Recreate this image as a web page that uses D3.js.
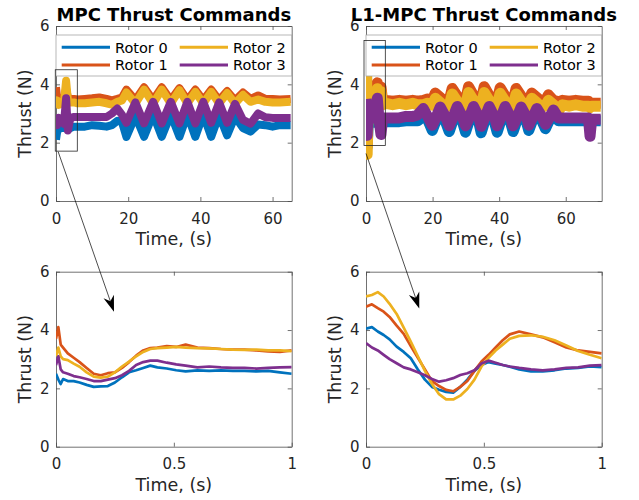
<!DOCTYPE html>
<html>
<head>
<meta charset="utf-8">
<script src="https://cdn.jsdelivr.net/npm/d3@7"></script>
<style>
    body { margin: 0; background: #fff; }
    svg { font-family: "DejaVu Sans", sans-serif; }
</style>
</head>
<body>
<div id="chart"></div>
<script>
// rotors + MATLAB default line colours
const rotorNames = ["Rotor 0", "Rotor 1", "Rotor 2", "Rotor 3"];
const rotorColors = ["#0072BD", "#D95319", "#EDB120", "#7E2F8E"];

const thrustTicks = [0, 2, 4, 6];
const thrustTickLabels = ["0", "2", "4", "6"];
const runTicks = [0, 20, 40, 60];
const runTickLabels = ["0", "20", "40", "60"];
const zoomTicks = [0, 0.5, 1];
const zoomTickLabels = ["0", "0.5", "1"];

// ---- MPC, whole flight (values are centres of the noisy band) ----
const mpcTime = [0, 0.3, 0.8, 1.5, 2.2, 2.8, 3.3, 4, 5, 6, 8, 10, 12, 14, 15.5,
    17, 18.3, 19.5, 22, 24.4, 26.9, 29.3, 31.8, 34.2, 36.4, 38.6, 40.8, 43.0, 45.2, 47.4,
    49.6, 51.8, 53.9, 56, 58, 60, 62, 65];
const mpcRotor0 = [2.1, 2.35, 2.5, 2.5, 2.5, 2.6, 2.45, 2.5, 2.55, 2.55, 2.55, 2.6, 2.58, 2.55, 2.6,
    2.75, 2.7, 2.2, 2.92, 2.2, 2.97, 2.2, 2.97, 2.2, 2.97, 2.2, 2.97, 2.2, 2.95, 2.25,
    2.9, 2.5, 2.38, 2.62, 2.6, 2.55, 2.6, 2.6];
const mpcRotor1 = [3.9, 3.55, 3.4, 3.5, 3.5, 3.85, 3.55, 3.5, 3.5, 3.48, 3.5, 3.52, 3.55, 3.5, 3.45,
    3.5, 3.55, 3.82, 3.46, 3.9, 3.46, 3.9, 3.46, 3.87, 3.46, 3.82, 3.46, 3.82, 3.46, 3.77,
    3.45, 3.72, 3.5, 3.62, 3.5, 3.5, 3.48, 3.5];
const mpcRotor2 = [3.2, 3.45, 3.3, 3.35, 3.4, 4.12, 3.45, 3.38, 3.38, 3.35, 3.35, 3.38, 3.4, 3.35, 3.3,
    3.4, 3.45, 3.72, 3.34, 3.82, 3.34, 3.82, 3.34, 3.8, 3.34, 3.74, 3.34, 3.74, 3.34, 3.7,
    3.34, 3.64, 3.4, 3.48, 3.4, 3.38, 3.38, 3.4];
const mpcRotor3 = [2.75, 2.6, 2.85, 2.8, 2.65, 3.52, 2.42, 2.85, 2.88, 2.88, 2.88, 2.88, 2.88, 2.88, 3.0,
    3.17, 2.95, 2.68, 3.38, 2.66, 3.4, 2.66, 3.4, 2.66, 3.4, 2.66, 3.4, 2.68, 3.38, 2.68,
    3.33, 2.78, 2.65, 3.0, 2.87, 2.85, 2.85, 2.85];

// ---- L1-MPC, whole flight ----
const l1Time = [0, 0.15, 0.35, 0.7, 1.2, 1.6, 2.2, 2.8, 3.4, 3.9, 4.5, 5, 6, 8, 10, 12, 14, 15.5, 17.2, 18.5,
    19.9, 20.8, 22.3, 23.8, 25.0, 25.9, 27.4, 28.9, 29.9, 30.8, 32.3, 33.8,
    34.6, 35.5, 37.0, 38.5, 39.4, 40.3, 41.8, 43.3, 44.2, 45.1, 46.6, 48.1,
    48.9, 49.8, 51.3, 52.8, 53.9, 54.8, 56.3, 57.8,
    59, 61, 63, 65, 66.8, 67.3, 67.8, 69, 70.5];
const l1Rotor0 = [4.1, 3.9, 1.85, 2.7, 2.7, 2.7, 2.7, 2.7, 2.8, 2.7, 2.6, 2.7, 2.72, 2.72, 2.72, 2.75, 2.75, 2.75, 2.9, 2.8,
    2.42, 2.68, 3.0, 2.75, 2.38, 2.68, 3.05, 2.75, 2.36, 2.68, 3.05, 2.75,
    2.34, 2.68, 3.05, 2.75, 2.36, 2.68, 3.05, 2.75, 2.38, 2.68, 3.05, 2.75,
    2.42, 2.7, 3.0, 2.75, 2.48, 2.7, 2.95, 2.75,
    2.75, 2.75, 2.75, 2.75, 2.75, 2.75, 2.75, 2.75, 2.75];
const l1Rotor1 = [4.8, 4.6, 1.9, 3.7, 3.4, 3.5, 3.45, 3.5, 4.05, 3.5, 3.9, 3.42, 3.45, 3.42, 3.45, 3.42, 3.45, 3.42, 3.45, 3.5,
    3.45, 3.7, 3.55, 3.4, 3.45, 3.86, 3.6, 3.4, 3.45, 3.92, 3.62, 3.4,
    3.45, 3.92, 3.62, 3.4, 3.45, 3.88, 3.6, 3.4, 3.45, 3.86, 3.6, 3.4,
    3.45, 3.7, 3.55, 3.4, 3.45, 3.64, 3.45, 3.4,
    3.45, 3.42, 3.45, 3.42, 3.42, 3.3, 3.35, 3.35, 3.35];
const l1Rotor2 = [5.2, 5.1, 1.6, 3.5, 3.3, 3.35, 3.3, 3.35, 3.85, 3.3, 3.75, 3.3, 3.35, 3.3, 3.35, 3.3, 3.35, 3.3, 3.3, 3.35,
    3.28, 3.52, 3.38, 3.2, 3.28, 3.67, 3.42, 3.2, 3.28, 3.72, 3.45, 3.2,
    3.28, 3.72, 3.45, 3.2, 3.28, 3.69, 3.42, 3.2, 3.28, 3.67, 3.42, 3.2,
    3.28, 3.52, 3.38, 3.2, 3.28, 3.45, 3.3, 3.08,
    3.3, 3.25, 3.3, 3.25, 3.25, 3.2, 3.25, 3.25, 3.25];
const l1Rotor3 = [3.5, 3.3, 2.25, 3.3, 2.85, 2.9, 2.85, 2.85, 3.52, 2.8, 2.28, 2.85, 2.85, 2.85, 2.85, 2.9, 2.9, 2.95, 3.17, 2.9,
    2.6, 2.8, 3.22, 2.9, 2.58, 2.8, 3.24, 2.9, 2.58, 2.8, 3.24, 2.9,
    2.56, 2.8, 3.24, 2.9, 2.58, 2.8, 3.24, 2.9, 2.58, 2.8, 3.22, 2.9,
    2.6, 2.8, 3.17, 2.9, 2.63, 2.8, 3.12, 2.85,
    2.85, 2.85, 2.85, 2.85, 2.85, 2.22, 2.8, 2.8, 2.8];

// ---- MPC, first second ----
const mpcZoomTime = [0, 0.01, 0.02, 0.03, 0.05, 0.075, 0.1, 0.13, 0.16, 0.19, 0.22, 0.25, 0.28, 0.31, 0.34,
    0.37, 0.40, 0.43, 0.47, 0.51, 0.55, 0.6, 0.65, 0.7, 0.75, 0.8, 0.85, 0.9, 0.95, 1.0];
const mpcZoomRotor0 = [2.5, 2.3, 2.15, 2.32, 2.25, 2.25, 2.2, 2.12, 2.05, 2.07, 2.08, 2.2, 2.38, 2.55, 2.62,
    2.7, 2.78, 2.72, 2.68, 2.62, 2.58, 2.62, 2.6, 2.62, 2.6, 2.6, 2.58, 2.6, 2.55, 2.5];
const mpcZoomRotor1 = [3.7, 4.1, 3.5, 3.4, 3.2, 3.05, 2.9, 2.7, 2.5, 2.45, 2.52, 2.55, 2.7, 2.9, 3.12,
    3.3, 3.38, 3.4, 3.45, 3.42, 3.5, 3.4, 3.38, 3.35, 3.33, 3.33, 3.3, 3.27, 3.25, 3.3];
const mpcZoomRotor2 = [3.1, 3.4, 3.1, 3.0, 2.97, 2.85, 2.74, 2.55, 2.4, 2.37, 2.4, 2.55, 2.75, 2.92, 3.1,
    3.25, 3.35, 3.38, 3.4, 3.42, 3.4, 3.38, 3.37, 3.35, 3.33, 3.32, 3.33, 3.3, 3.3, 3.28];
const mpcZoomRotor3 = [2.8, 3.1, 2.65, 2.55, 2.5, 2.42, 2.38, 2.32, 2.25, 2.25, 2.3, 2.35, 2.45, 2.6, 2.8,
    2.9, 2.95, 2.95, 2.88, 2.82, 2.78, 2.72, 2.75, 2.72, 2.7, 2.7, 2.68, 2.7, 2.72, 2.73];

// ---- L1-MPC, first second ----
const l1ZoomTime = [0, 0.025, 0.05, 0.075, 0.1, 0.13, 0.16, 0.19, 0.22, 0.25, 0.28, 0.31, 0.34, 0.37, 0.40,
    0.43, 0.46, 0.49, 0.52, 0.55, 0.58, 0.61, 0.65, 0.7, 0.75, 0.8, 0.85, 0.9, 0.95, 1.0];
const l1ZoomRotor0 = [4.05, 4.1, 3.95, 3.83, 3.68, 3.43, 3.25, 3.03, 2.65, 2.3, 2.05, 1.95, 1.88, 1.85, 2.05,
    2.3, 2.6, 2.8, 2.9, 2.85, 2.8, 2.74, 2.65, 2.58, 2.58, 2.62, 2.68, 2.7, 2.75, 2.73];
const l1ZoomRotor1 = [4.8, 4.88, 4.75, 4.63, 4.45, 4.15, 3.87, 3.45, 3.05, 2.65, 2.25, 2.08, 1.95, 1.9, 2.05,
    2.25, 2.6, 2.92, 3.15, 3.4, 3.65, 3.85, 3.95, 3.85, 3.75, 3.58, 3.4, 3.3, 3.25, 3.2];
const l1ZoomRotor2 = [5.15, 5.2, 5.3, 5.15, 4.9, 4.55, 4.08, 3.6, 3.1, 2.6, 2.15, 1.8, 1.62, 1.62, 1.75,
    1.98, 2.3, 2.75, 3.05, 3.3, 3.5, 3.7, 3.8, 3.82, 3.77, 3.65, 3.47, 3.28, 3.15, 3.03];
const l1ZoomRotor3 = [3.55, 3.4, 3.3, 3.15, 3.0, 2.86, 2.72, 2.65, 2.55, 2.45, 2.32, 2.23, 2.28, 2.35, 2.46,
    2.52, 2.62, 2.85, 2.95, 2.88, 2.8, 2.75, 2.7, 2.65, 2.62, 2.65, 2.7, 2.72, 2.78, 2.8];


class ThrustPlot {

    constructor(svg, cfg) {
        this.svg = svg;
        this.cfg = cfg;
        this.initVis();
    }

    initVis() {
        let vis = this;
        let c = vis.cfg;

        vis.width = c.width;
        vis.height = c.height;

        vis.g = vis.svg.append("g")
            .attr("transform", "translate(" + c.left + "," + c.top + ")");

        vis.x = d3.scaleLinear().domain(c.xDomain).range([0, vis.width]);
        vis.y = d3.scaleLinear().domain([0, 6]).range([vis.height, 0]);

        vis.g.append("clipPath").attr("id", c.id + "-clip")
            .append("rect")
            .attr("width", vis.width)
            .attr("height", vis.height);

        // box axes, ticks pointing in (matlab look)
        let fmtX = (d, i) => c.xLabels[i];
        let fmtY = (d, i) => thrustTickLabels[i];

        vis.g.append("g").attr("class", "axis")
            .attr("transform", "translate(0," + vis.height + ")")
            .call(d3.axisBottom(vis.x).tickValues(c.xTicks).tickFormat(fmtX)
                .tickSizeInner(-4).tickSizeOuter(0).tickPadding(12));
        vis.g.append("g").attr("class", "axis")
            .call(d3.axisTop(vis.x).tickValues(c.xTicks).tickFormat("")
                .tickSizeInner(-4).tickSizeOuter(0));
        vis.g.append("g").attr("class", "axis")
            .call(d3.axisLeft(vis.y).tickValues(thrustTicks).tickFormat(fmtY)
                .tickSizeInner(-4).tickSizeOuter(0).tickPadding(6.5));
        vis.g.append("g").attr("class", "axis")
            .attr("transform", "translate(" + vis.width + ",0)")
            .call(d3.axisRight(vis.y).tickValues(thrustTicks).tickFormat("")
                .tickSizeInner(-4).tickSizeOuter(0));

        vis.g.selectAll(".axis .domain").attr("stroke", "#4d4d4d").attr("stroke-width", 0.8);
        vis.g.selectAll(".axis .tick line").attr("stroke", "#4d4d4d").attr("stroke-width", 0.8);
        vis.g.selectAll(".axis text")
            .attr("font-size", "15px")
            .attr("fill", "#262626")
            .attr("font-family", "DejaVu Sans, sans-serif");

        // labels
        vis.g.append("text")
            .attr("x", vis.width / 2)
            .attr("y", vis.height + 44)
            .attr("text-anchor", "middle")
            .attr("font-size", "17.5px")
            .attr("fill", "#262626")
            .text("Time, (s)");

        vis.g.append("text")
            .attr("transform", "translate(-25," + (vis.height / 2) + ") rotate(-90)")
            .attr("text-anchor", "middle")
            .attr("font-size", "17.5px")
            .attr("fill", "#262626")
            .text("Thrust (N)");

        if (c.title) {
            vis.g.append("text")
                .attr("x", vis.width / 2)
                .attr("y", -5)
                .attr("text-anchor", "middle")
                .attr("font-size", "18px")
                .attr("font-weight", "bold")
                .attr("fill", "#000")
                .text(c.title);
        }

        vis.updateVis();
    }

    updateVis() {
        let vis = this;
        let c = vis.cfg;

        let line = d3.line()
            .x(d => vis.x(d[0]))
            .y(d => vis.y(d[1]));

        let series = c.rotors.map((vals, i) => ({
            i: i,
            pts: c.time.map((t, j) => [t, vals[j]])
        }));

        vis.g.append("g")
            .attr("clip-path", "url(#" + c.id + "-clip)")
            .selectAll("path")
            .data(series)
            .enter()
            .append("path")
            .attr("d", d => line(d.pts))
            .attr("fill", "none")
            .attr("stroke", d => rotorColors[d.i])
            .attr("stroke-width", c.lineWidth)
            .attr("stroke-linejoin", "round");

        if (!c.legend) return;

        // legend: 2 columns, filled column by column
        let lg = vis.g.append("g").attr("transform", "translate(0,9)");
        lg.append("rect")
            .attr("width", vis.width)
            .attr("height", 41)
            .attr("fill", "#fff")
            .attr("stroke", "#a6a6a6")
            .attr("stroke-width", 0.8);

        let item = lg.selectAll("g.item")
            .data(rotorNames)
            .enter()
            .append("g")
            .attr("class", "item")
            .attr("transform", (d, i) => "translate(" + (Math.floor(i / 2) * 118) + "," + (i % 2 === 0 ? 12.3 : 30) + ")");

        item.append("line")
            .attr("x1", 5.7).attr("x2", 54)
            .attr("stroke", (d, i) => rotorColors[i])
            .attr("stroke-width", 3);
        item.append("text")
            .attr("x", 59)
            .attr("dy", "0.36em")
            .attr("font-size", "14.5px")
            .attr("fill", "#000")
            .text(d => d);
    }

    // page coordinates of a data point
    px(t) { return this.cfg.left + this.x(t); }
    py(v) { return this.cfg.top + this.y(v); }
}


let svg = d3.select("#chart").append("svg")
    .attr("width", 639)
    .attr("height", 500);

let plotW = 235.7, plotH = 175;

let mpcTop = new ThrustPlot(svg, {
    id: "mpcTop", left: 56, top: 26, width: plotW, height: plotH,
    xDomain: [0, 65.3], xTicks: runTicks, xLabels: runTickLabels,
    time: mpcTime, rotors: [mpcRotor0, mpcRotor1, mpcRotor2, mpcRotor3],
    lineWidth: 8, legend: true, title: "MPC Thrust Commands"
});
let l1Top = new ThrustPlot(svg, {
    id: "l1Top", left: 366, top: 26, width: plotW, height: plotH,
    xDomain: [0, 70.8], xTicks: runTicks, xLabels: runTickLabels,
    time: l1Time, rotors: [l1Rotor0, l1Rotor1, l1Rotor2, l1Rotor3],
    lineWidth: 11, legend: true, title: "L1-MPC Thrust Commands"
});
let mpcBottom = new ThrustPlot(svg, {
    id: "mpcBottom", left: 56, top: 271.7, width: plotW, height: plotH,
    xDomain: [0, 1], xTicks: zoomTicks, xLabels: zoomTickLabels,
    time: mpcZoomTime, rotors: [mpcZoomRotor0, mpcZoomRotor1, mpcZoomRotor2, mpcZoomRotor3],
    lineWidth: 2.7, legend: false
});
let l1Bottom = new ThrustPlot(svg, {
    id: "l1Bottom", left: 366, top: 271.7, width: plotW, height: plotH,
    xDomain: [0, 1], xTicks: zoomTicks, xLabels: zoomTickLabels,
    time: l1ZoomTime, rotors: [l1ZoomRotor0, l1ZoomRotor1, l1ZoomRotor2, l1ZoomRotor3],
    lineWidth: 2.7, legend: false
});

// zoom boxes and arrows (annotation layer on top of everything)
let notes = svg.append("g");

function zoomBox(plot, t0, t1, v0, v1) {
    notes.append("rect")
        .attr("x", plot.px(t0))
        .attr("y", plot.py(v1))
        .attr("width", plot.px(t1) - plot.px(t0))
        .attr("height", plot.py(v0) - plot.py(v1))
        .attr("fill", "none")
        .attr("stroke", "#262626")
        .attr("stroke-width", 0.8);
}

function arrow(from, t0, v0, to, t1, v1) {
    let x0 = from.px(t0), y0 = from.py(v0);
    let x1 = to.px(t1), y1 = to.py(v1);
    let len = Math.hypot(x1 - x0, y1 - y0);
    let ux = (x1 - x0) / len, uy = (y1 - y0) / len;
    let nx = -uy, ny = ux;
    let headL = 16, headW = 5.5, notch = 11;

    notes.append("line")
        .attr("x1", x0).attr("y1", y0)
        .attr("x2", x1 - ux * notch).attr("y2", y1 - uy * notch)
        .attr("stroke", "#000")
        .attr("stroke-width", 0.7);

    let bx = x1 - ux * headL, by = y1 - uy * headL;
    let head = [
        [x1, y1],
        [bx + nx * headW, by + ny * headW],
        [x1 - ux * notch, y1 - uy * notch],
        [bx - nx * headW, by - ny * headW]
    ];
    notes.append("path")
        .attr("d", "M" + head.map(p => p.join(",")).join("L") + "Z")
        .attr("fill", "#000");
}

zoomBox(mpcTop, -0.2, 5.9, 1.71, 4.5);
zoomBox(l1Top, -0.6, 5.8, 1.9, 5.5);
arrow(mpcTop, 0.6, 1.69, mpcBottom, 0.246, 4.63);
arrow(l1Top, 0, 1.63, l1Bottom, 0.226, 4.74);
</script>
</body>
</html>
